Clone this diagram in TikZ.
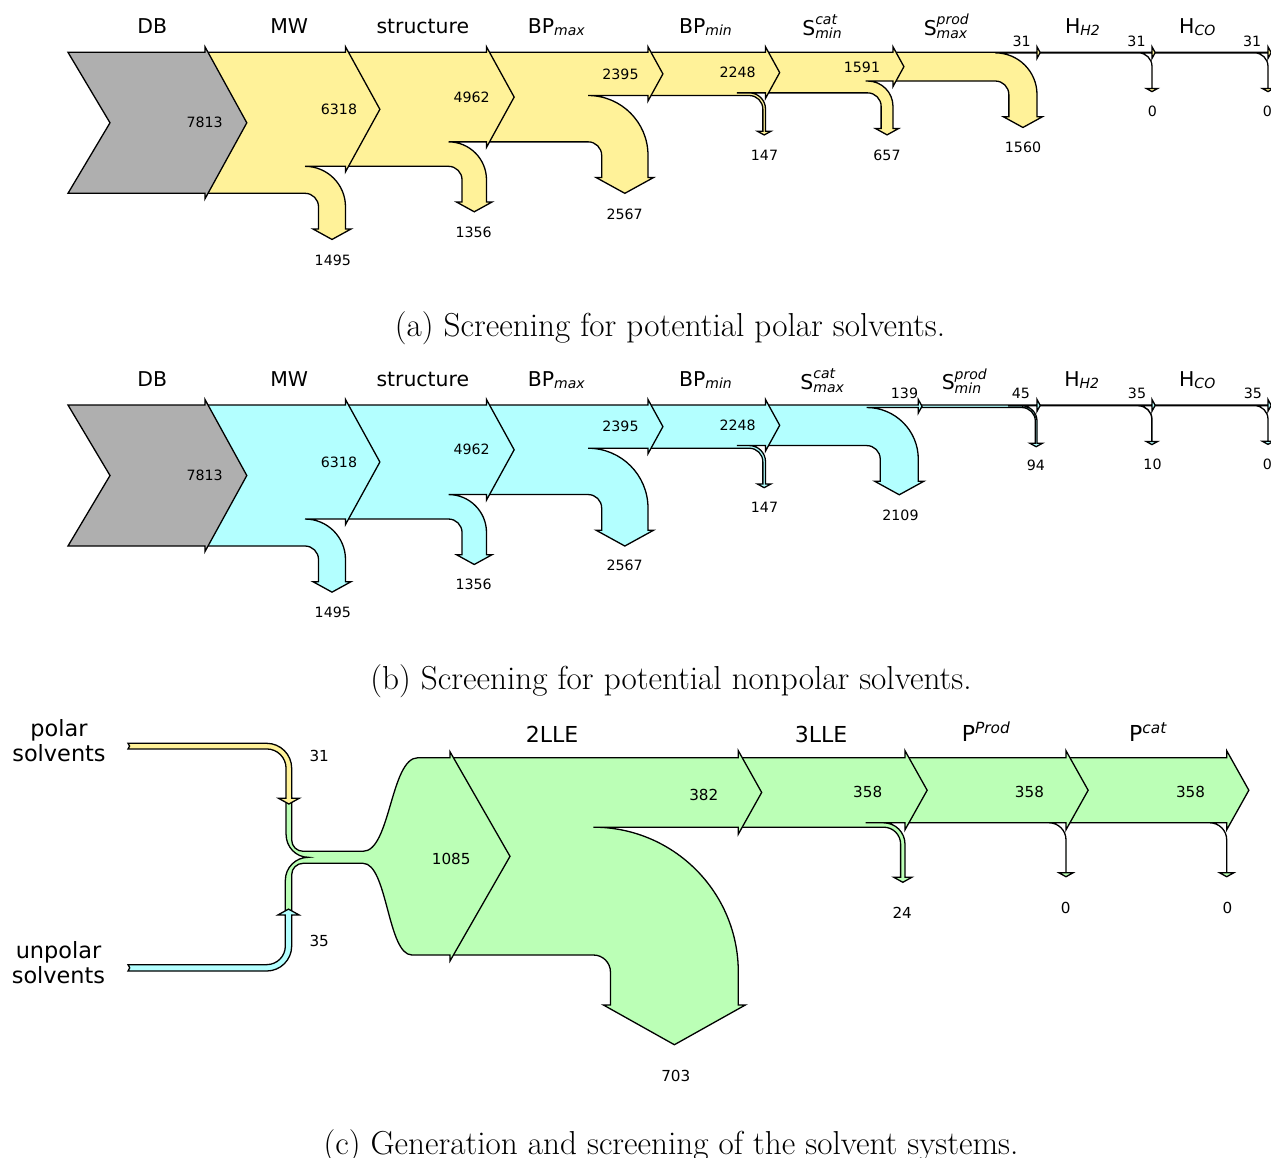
\documentclass[tikz,border=0pt]{standalone}
\usepackage{fontspec}
\newfontfamily\djv{DejaVu Sans}
\definecolor{yel}{RGB}{255,242,153}
\definecolor{cyn}{RGB}{179,255,255}
\definecolor{grn}{RGB}{187,255,182}
\definecolor{gry}{RGB}{175,175,175}
\def\skR{13.5}\def\skS{5.5}\def\skP{0.55}\def\skL{35.7}
\newcommand\sankstage[7]{%
 \pgfmathsetmacro\sYa{#3+#4}%
 \pgfmathsetmacro\sYb{#3+#4+#5}%
 \pgfmathsetmacro\sYm{#3+#4/2}%
 \pgfmathsetmacro\sXt{#2+(#4/2+\skS)*\skP}%
 \pgfmathsetmacro\sRo{\skR+#5}%
 \pgfmathsetmacro\sCx{#2-#5-\skR}%
 \pgfmathsetmacro\sCy{\sYb+\skR}%
 \pgfmathsetmacro\sXi{#2-#5}%
 \pgfmathsetmacro\sYs{\sYb+\skL}%
 \pgfmathsetmacro\sYt{\sYs+(#5/2+\skS)*\skP}%
 \pgfmathsetmacro\sXm{#2-#5/2}%
 \pgfmathsetmacro\sXe{\sCx-#7}%
 \pgfmathsetmacro\sKo{0.5523*\sRo}%
 \pgfmathsetmacro\sKi{0.5523*\skR}%
 \filldraw[flowsty, fill=#6] (#1,#3) -- (#2,#3) -- (#2,#3-\skS) -- (\sXt,\sYm) -- (#2,\sYa+\skS) -- (#2,\sYa) -- (\sXe,\sYa) -- (\sCx,\sYa) .. controls (\sCx+\sKo,\sYa) and (#2,\sCy-\sKo) .. (#2,\sCy) -- (#2,\sYs) -- (#2+\skS,\sYs) -- (\sXm,\sYt) -- (\sXi-\skS,\sYs) -- (\sXi,\sYs) -- (\sXi,\sCy) .. controls (\sXi,\sCy-\sKi) and (\sCx+\sKi,\sYb) .. (\sCx,\sYb) -- (#1,\sYb) -- cycle;%
}
\newsavebox\ssboxa
\newsavebox\ssboxb
\newlength\ssdim
\newcommand\subA[1]{\raisebox{-1pt}{\fontsize{7}{8}\selectfont\itshape #1}}
\newcommand\subsupA[2]{{\fontsize{7}{8}\selectfont\itshape%
 \sbox\ssboxa{#1}\sbox\ssboxb{#2}%
 \setlength\ssdim{\wd\ssboxa}%
 \ifdim\wd\ssboxb>\ssdim\setlength\ssdim{\wd\ssboxb}\fi%
 \raisebox{5.3pt}{\rlap{\usebox\ssboxa}}\raisebox{-1.7pt}{\rlap{\usebox\ssboxb}}\hspace*{\ssdim}}}
\newcommand\supC[1]{\raisebox{3.8pt}{\fontsize{7.7}{9}\selectfont\itshape #1}}
\tikzset{
 flowsty/.style={draw=black, line width=0.65pt, line join=miter},
 numa/.style={font=\djv\fontsize{7.1}{8}\selectfont, inner sep=0pt},
 numc/.style={font=\djv\fontsize{7.6}{9}\selectfont, inner sep=0pt},
 ttla/.style={font=\djv\fontsize{10.2}{12}\selectfont, inner sep=0pt, anchor=base},
 ttlc/.style={font=\djv\fontsize{11}{13}\selectfont, inner sep=0pt, anchor=base},
 sidelbl/.style={font=\djv\fontsize{11.2}{12.5}\selectfont, inner sep=0pt, align=center},
 captxt/.style={font=\fontsize{16.6}{19}\selectfont, inner sep=0pt, anchor=base}
}
\begin{document}
\begin{tikzpicture}[x=0.5pt, y=-0.5pt]
\useasboundingbox (0,0) rectangle (1271,1158);
\fill[white] (0,0) rectangle (1271,1158);

% ---------------- panel (a) ----------------
\sankstage{1152}{1268}{52.3}{0.56}{0}{yel}{0}
\sankstage{1037}{1152}{52.3}{0.56}{0}{yel}{0}
\sankstage{893}{1037}{52.3}{0.56}{28.15}{yel}{0}
\sankstage{765.5}{893}{52.3}{28.71}{11.86}{yel}{2}
\sankstage{648}{765.5}{52.3}{40.57}{2.65}{yel}{12.6}
\sankstage{486.5}{648}{52.3}{43.22}{46.33}{yel}{0}
\sankstage{345.5}{486.5}{52.3}{89.55}{24.47}{yel}{0}
\sankstage{205}{345.5}{52.3}{114.02}{26.98}{yel}{0}
\filldraw[flowsty, fill=gry] (68,52.3) -- (205,52.3) -- (205,46.8) -- (246.8,122.8) -- (205,198.8) -- (205,193.3) -- (68,193.3) -- (110,122.8) -- cycle;

\node[ttla] (aDB) at (152.2,33) {DB};
\node[ttla] (aMW) at (289.2,33) {MW};
\node[ttla] (aST) at (422.8,33) {structure};
\node[ttla] (aBPx) at (556.3,33.3) {BP\subA{max}};
\node[ttla] (aBPn) at (705.5,33.3) {BP\subA{min}};
\node[ttla] (aSc) at (822,35.5) {S\subsupA{cat}{min}};
\node[ttla] (aSp) at (946.3,35.2) {S\subsupA{prod}{max}};
\node[ttla] (aHH) at (1082.5,33.3) {H\subA{H2}};
\node[ttla] (aHC) at (1197.3,33.3) {H\subA{CO}};

\node[numa] (a1) at (204.7,122.7) {7813};
\node[numa] (a2) at (339,109.7) {6318};
\node[numa] (a3) at (471.7,97) {4962};
\node[numa] (a4) at (620.5,74.2) {2395};
\node[numa] (a5) at (737.7,72.5) {2248};
\node[numa] (a6) at (862,67.2) {1591};
\node[numa] (a7) at (1021.7,41.2) {31};
\node[numa] (a8) at (1136.5,41.2) {31};
\node[numa] (a9) at (1252.2,41.2) {31};
\node[numa] (a10) at (332.8,260) {1495};
\node[numa] (a11) at (473.7,232.5) {1356};
\node[numa] (a12) at (624.7,214.2) {2567};
\node[numa] (a13) at (764.5,155.3) {147};
\node[numa] (a14) at (887,155.3) {657};
\node[numa] (a15) at (1023,147.8) {1560};
\node[numa] (a16) at (1152.5,111.8) {0};
\node[numa] (a17) at (1267.5,111.8) {0};

\node[captxt] (capa) at (670,336) {(a) Screening for potential polar solvents.};

% ---------------- panel (b) ----------------
\sankstage{1152}{1268}{405}{0.63}{0}{cyn}{0}
\sankstage{1037}{1152}{405}{0.63}{0.18}{cyn}{0}
\sankstage{918.3}{1037}{405}{0.81}{1.70}{cyn}{13.8}
\sankstage{765.5}{918.3}{405}{2.51}{38.06}{cyn}{0}
\sankstage{648}{765.5}{405}{40.57}{2.65}{cyn}{12.6}
\sankstage{486.5}{648}{405}{43.22}{46.33}{cyn}{0}
\sankstage{345.5}{486.5}{405}{89.55}{24.47}{cyn}{0}
\sankstage{205}{345.5}{405}{114.02}{26.98}{cyn}{0}
\filldraw[flowsty, fill=gry] (68,405) -- (205,405) -- (205,399.5) -- (246.8,475.5) -- (205,551.5) -- (205,546) -- (68,546) -- (110,475.5) -- cycle;

\node[ttla] (bDB) at (152.2,386) {DB};
\node[ttla] (bMW) at (289.2,386) {MW};
\node[ttla] (bST) at (422.8,386) {structure};
\node[ttla] (bBPx) at (556.3,386.6) {BP\subA{max}};
\node[ttla] (bBPn) at (705.5,386.6) {BP\subA{min}};
\node[ttla] (bSc) at (822.2,389.3) {S\subsupA{cat}{max}};
\node[ttla] (bSp) at (964.3,389.8) {S\subsupA{prod}{min}};
\node[ttla] (bHH) at (1081.7,386.6) {H\subA{H2}};
\node[ttla] (bHC) at (1197.2,386.6) {H\subA{CO}};

\node[numa] (b1) at (204.7,475.4) {7813};
\node[numa] (b2) at (339,462) {6318};
\node[numa] (b3) at (471.7,449.5) {4962};
\node[numa] (b4) at (620.5,426.2) {2395};
\node[numa] (b5) at (737.7,425) {2248};
\node[numa] (b6) at (904.5,393.3) {139};
\node[numa] (b7) at (1020.8,393.3) {45};
\node[numa] (b8) at (1137,393.3) {35};
\node[numa] (b9) at (1252.8,393.3) {35};
\node[numa] (b10) at (332.8,612.5) {1495};
\node[numa] (b11) at (473.7,584.7) {1356};
\node[numa] (b12) at (624.7,565.8) {2567};
\node[numa] (b13) at (764.5,507.5) {147};
\node[numa] (b14) at (900.5,515.2) {2109};
\node[numa] (b15) at (1035.8,465.5) {94};
\node[numa] (b16) at (1152.5,464.5) {10};
\node[numa] (b17) at (1267.5,464.5) {0};

\node[captxt] (capb) at (671,689) {(b) Screening for potential nonpolar solvents.};

% ---------------- panel (c) ----------------
\def\skR{17}\def\skS{7}\def\skP{0.56}\def\skL{50}
\sankstage{1066}{1226.7}{757.7}{65.1}{0}{grn}{0}
\sankstage{905}{1066}{757.7}{65.1}{0}{grn}{0}
\sankstage{738.3}{905}{757.7}{65.1}{4.36}{grn}{18}
\sankstage{450}{738.3}{757.7}{69.47}{127.84}{grn}{0}
% merge shape
\filldraw[flowsty, fill=grn] (286.06,798.3) -- (291.7,798.3) -- (291.7,840)
  .. controls (291.7,846.35) and (296.85,851.3) .. (303.2,851.3) -- (363,851.3)
  .. controls (390.5,851.3) and (390.5,757.7) .. (418,757.7) -- (450,757.7)
  -- (450,751.7) -- (510,856.35) -- (450,961) -- (450,955) -- (412,955)
  .. controls (387.5,955) and (387.5,863.3) .. (363,863.3) -- (303.2,863.3)
  .. controls (296.85,863.3) and (291.7,868.2) .. (291.7,874.8) -- (291.7,915)
  -- (285.34,915) -- (285.34,880.3)
  .. controls (285.34,867.6) and (295.6,857.3) .. (308.3,857.3)
  .. controls (296,857.3) and (286.06,847) .. (286.06,834.3) -- cycle;
% polar solvents band
\filldraw[flowsty, fill=yel] (128,743.3) -- (266.7,743.3)
  .. controls (280.5,743.3) and (291.7,754.5) .. (291.7,768.3) -- (291.7,798.3)
  -- (299.2,798.3) -- (288.88,804) -- (278.56,798.3) -- (286.06,798.3) -- (286.06,768.3)
  .. controls (286.06,757.6) and (277.4,748.94) .. (266.7,748.94) -- (128,748.94)
  -- (129.6,746.1) -- cycle;
% unpolar solvents band
\filldraw[flowsty, fill=cyn] (128,971) -- (266.7,971)
  .. controls (280.5,971) and (291.7,959.8) .. (291.7,946) -- (291.7,915)
  -- (299.2,915) -- (288.52,909.1) -- (277.84,915) -- (285.34,915) -- (285.34,946)
  .. controls (285.34,956.3) and (277,964.64) .. (266.7,964.64) -- (128,964.64)
  -- (129.75,967.8) -- cycle;

\node[ttlc] (c2L) at (552.2,742.7) {2LLE};
\node[ttlc] (c3L) at (821.2,742.7) {3LLE};
\node[ttlc] (cPP) at (985.8,741) {P\supC{Prod}};
\node[ttlc] (cPC) at (1147.7,741) {P\supC{cat}};

\node[numc] (c1) at (451.2,858.8) {1085};
\node[numc] (c2) at (703.8,794.5) {382};
\node[numc] (c3) at (867.7,792.2) {358};
\node[numc] (c4) at (1029.5,792.2) {358};
\node[numc] (c5) at (1190.5,792.2) {358};
\node[numc] (c6) at (675.8,1076.2) {703};
\node[numc] (c7) at (902.2,912.8) {24};
\node[numc] (c8) at (1065.8,907.5) {0};
\node[numc] (c9) at (1227.5,907.5) {0};
\node[numc] (c10) at (319.2,755.8) {31};
\node[numc] (c11) at (319.2,941.2) {35};

\node[sidelbl] (cpol) at (59,740.8) {polar\\solvents};
\node[sidelbl] (cunp) at (58.5,962.5) {unpolar\\solvents};

\node[captxt] (capc) at (671,1154) {(c) Generation and screening of the solvent systems.};
\end{tikzpicture}
\end{document}
